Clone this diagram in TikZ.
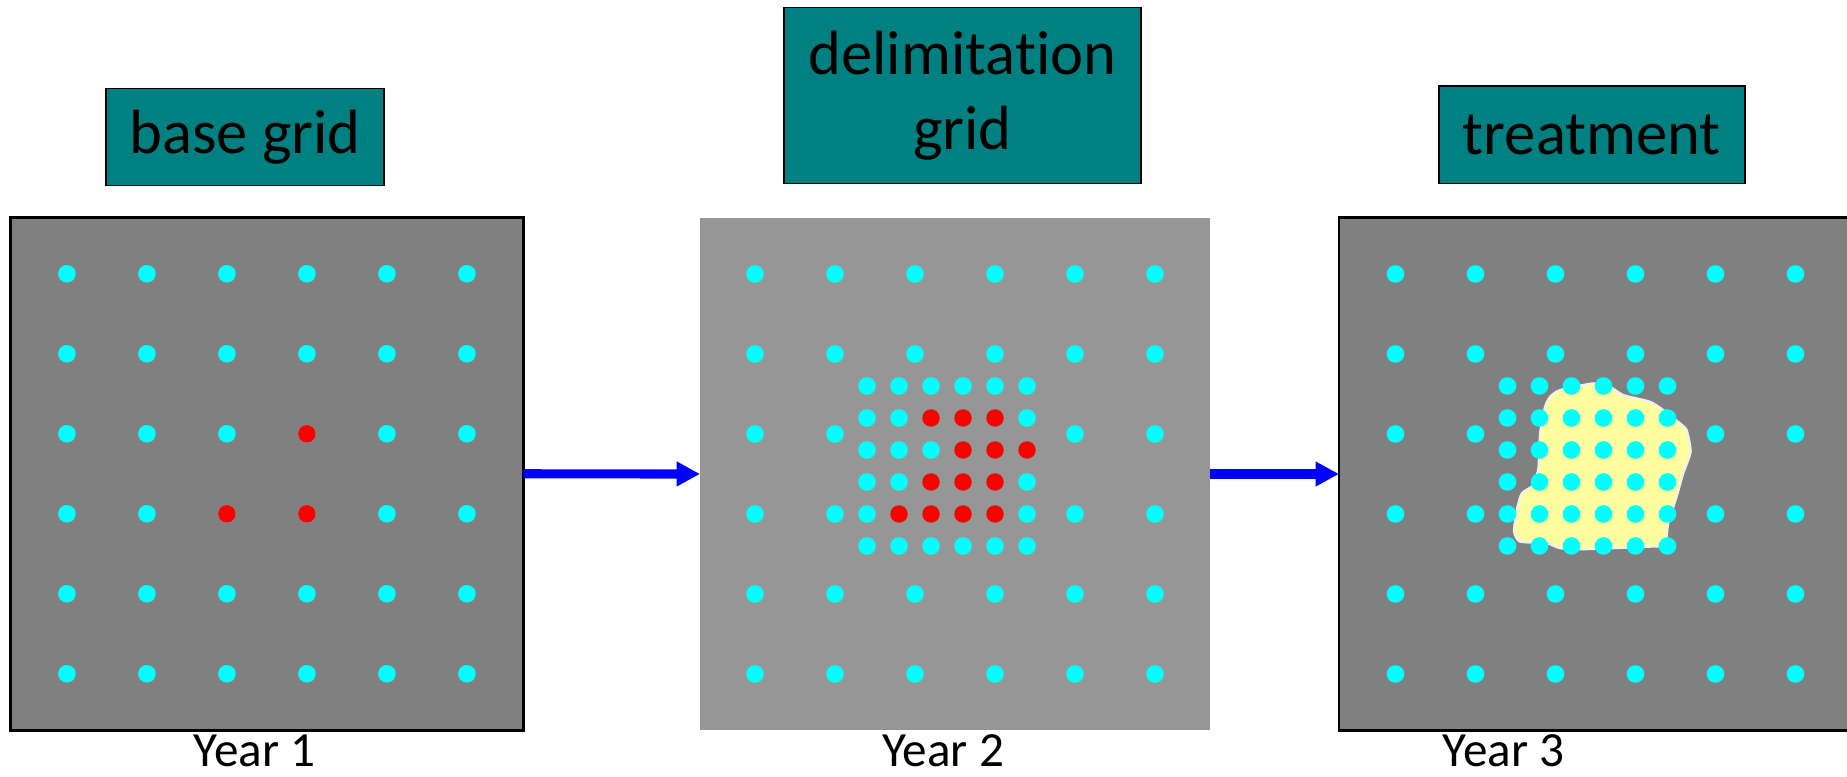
\documentclass[tikz,border=0pt]{standalone}
\usepackage{fontspec}
\setmainfont{Carlito}[Ligatures=NoCommon]
\usetikzlibrary{arrows.meta}
\definecolor{boxteal}{RGB}{0,128,128}
\definecolor{fielddark}{RGB}{128,128,128}
\definecolor{fieldlight}{RGB}{150,150,150}
\definecolor{patch}{RGB}{255,255,160}
\definecolor{dotcyan}{RGB}{0,255,255}
\definecolor{dotred}{RGB}{255,0,0}
\definecolor{flowblue}{RGB}{0,0,255}
\tikzset{
  heading/.style={draw, line width=0.5pt, fill=boxteal, align=center, inner sep=0pt, font=\fontsize{17.8pt}{21.4pt}\selectfont},
  field/.style={minimum width=5.13cm, minimum height=5.13cm, inner sep=0pt, outer sep=0pt},
  yearlabel/.style={anchor=base, inner sep=0pt, font=\fontsize{14pt}{17pt}\selectfont},
  flowarrow/.style={draw=flowblue, line width=2.6pt, -{Triangle[length=0.233cm, width=0.233cm]}},
}
\begin{document}
\begin{tikzpicture}
\useasboundingbox (0,0) rectangle (18.47,-7.77);

\node[heading, minimum width=2.78cm, minimum height=0.97cm] (t1) at (2.452,-1.371) {base grid};
\node[heading, minimum width=3.57cm, minimum height=1.76cm] (t2) at (9.624,-0.956) {delimitation\\grid};
\node[heading, minimum width=3.06cm, minimum height=0.976cm] (t3) at (15.918,-1.348) {treatment};

\node[field, draw, line width=0.7pt, fill=fielddark] (g1) at (2.669,-4.738) {};
\node[field, minimum width=5.10cm, minimum height=5.12cm, fill=fieldlight] (g2) at (9.55,-4.74) {};
\node[field, draw, line width=0.7pt, fill=fielddark, anchor=west] (g3) at (13.39,-4.74) {};

% year 1: base grid
\foreach \i in {-2.0,-1.2,-0.4,0.4,1.2,2.0}
  \foreach \j in {-2.0,-1.2,-0.4,0.4,1.2,2.0}
    \fill[dotcyan] ([shift={(\i,\j)}]g1.center) circle (0.088);
\foreach \p in {(0.4,0.4),(-0.4,-0.4),(0.4,-0.4)}
  \fill[dotred] ([shift={\p}]g1.center) circle (0.088);

% year 2: delimitation around the finds
\foreach \j in {-2.0,-1.2,1.2,2.0}
  \foreach \i in {-2.0,-1.2,-0.4,0.4,1.2,2.0}
    \fill[dotcyan] ([shift={(\i,\j)}]g2.center) circle (0.088);
\foreach \j in {-0.4,0.4}
  \foreach \i in {-2.0,-1.2,1.2,2.0}
    \fill[dotcyan] ([shift={(\i,\j)}]g2.center) circle (0.088);
\foreach \i in {-0.88,-0.56,-0.24,0.08,0.40,0.72}
  \foreach \j in {0.88,0.56,0.24,-0.08,-0.40,-0.72}
    \fill[dotcyan] ([shift={(\i,\j)}]g2.center) circle (0.088);
\foreach \p in {(-0.24,0.56),(0.08,0.56),(0.40,0.56),
                (0.08,0.24),(0.40,0.24),(0.72,0.24),
                (-0.24,-0.08),(0.08,-0.08),(0.40,-0.08),
                (-0.56,-0.40),(-0.24,-0.40),(0.08,-0.40),(0.40,-0.40)}
  \fill[dotred] ([shift={\p}]g2.center) circle (0.088);

% year 3: treated area
\draw[draw=white!88!gray, line width=0.6pt, fill=patch] plot[smooth cycle, tension=0.35] coordinates {
  (15.50,-3.967) (15.60,-3.90) (15.933,-3.833) (16.10,-3.867) (16.233,-3.95)
  (16.50,-4.017) (16.633,-4.10) (16.80,-4.233) (16.867,-4.30) (16.907,-4.517)
  (16.833,-4.733) (16.767,-4.967) (16.683,-5.233) (16.65,-5.45) (16.50,-5.467)
  (15.833,-5.493) (15.60,-5.483) (15.467,-5.433) (15.20,-5.417) (15.14,-5.317)
  (15.167,-5.10) (15.217,-4.933) (15.333,-4.85) (15.383,-4.683) (15.40,-4.333)
  (15.45,-4.067)};
\foreach \j in {-2.0,-1.2,1.2,2.0}
  \foreach \i in {-2.0,-1.2,-0.4,0.4,1.2,2.0}
    \fill[dotcyan] ([shift={(\i,\j)}]g3.center) circle (0.088);
\foreach \j in {-0.4,0.4}
  \foreach \i in {-2.0,-1.2,1.2,2.0}
    \fill[dotcyan] ([shift={(\i,\j)}]g3.center) circle (0.088);
\foreach \i in {-0.88,-0.56,-0.24,0.08,0.40,0.72}
  \foreach \j in {0.88,0.56,0.24,-0.08,-0.40,-0.72}
    \fill[dotcyan] ([shift={(\i,\j)}]g3.center) circle (0.088);

\node[yearlabel] (y1) at (2.545,-7.66) {Year 1};
\node[yearlabel] (y2) at (9.432,-7.66) {Year 2};
\node[yearlabel] (y3) at (15.034,-7.66) {Year 3};

\draw[flowarrow] (g1.east) -- (g2.west);
\draw[flowarrow] (g2.east) -- (g3.west);
\end{tikzpicture}
\end{document}
